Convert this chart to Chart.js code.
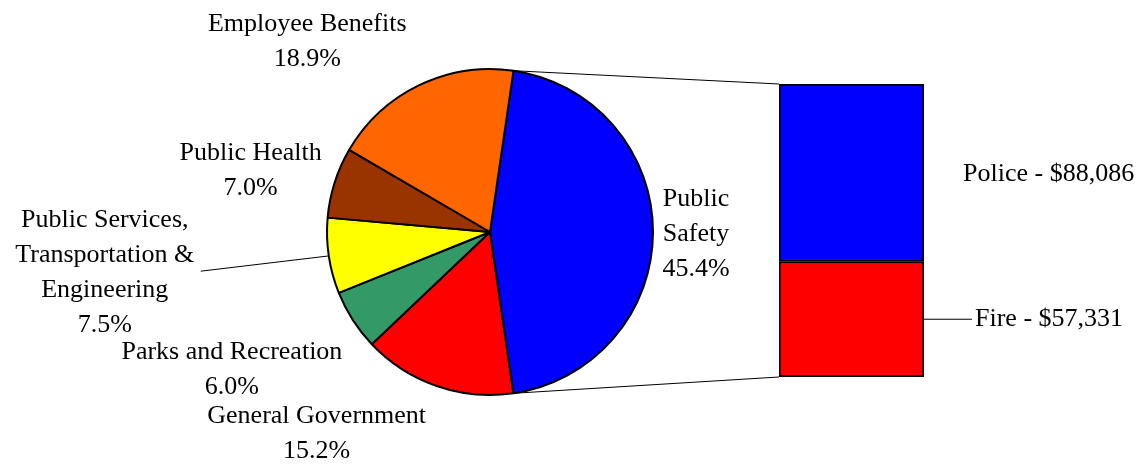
<!DOCTYPE html>
<html>
<head>
<meta charset="utf-8">
<script src="https://cdn.jsdelivr.net/npm/chart.js@4"></script>
<style>
  body { margin: 0; background: #fff; }
  .wrap { position: relative; width: 1145px; height: 464px; }
  .wrap canvas { position: absolute; left: 0; top: 0; }
</style>
</head>
<body>
<div class="wrap">
  <canvas id="pieChart" width="1145" height="464"></canvas>
  <canvas id="barChart" width="1145" height="464"></canvas>
</div>
<script>
// pie categories, clockwise from the top
const categories = [
  ["Public", "Safety"],
  ["General Government"],
  ["Parks and Recreation"],
  ["Public Services,", "Transportation &", "Engineering"],
  ["Public Health"],
  ["Employee Benefits"],
];
const shares = [45.4, 15.2, 6.0, 7.5, 7.0, 18.9];
const pieColors = ["#0000FF", "#FF0000", "#339966", "#FFFF00", "#993300", "#FF6600"];

// breakdown of Public Safety
const subCategories = ["Fire", "Police"];
const subValues = [57331, 88086];
const subColors = ["#FF0000", "#0000FF"];

const FONT = "26px 'Liberation Serif', 'Times New Roman', serif";
const LINE = 35;

// label offsets from the middle of each slice's rim (dx, dy)
const labelOffsets = [
  [43, 2], [-120, 48], [-121, 50], [-224, 17], [-84, -12], [-112, -43],
];

const pieLabels = {
  id: "pieLabels",
  afterDraw(chart) {
    const ctx = chart.ctx;
    const arcs = chart.getDatasetMeta(0).data;
    ctx.save();
    ctx.font = FONT;
    ctx.fillStyle = "#000";
    ctx.textAlign = "center";
    ctx.textBaseline = "middle";
    arcs.forEach((arc, i) => {
      const mid = (arc.startAngle + arc.endAngle) / 2;
      const px = arc.x + arc.outerRadius * Math.cos(mid);
      const py = arc.y + arc.outerRadius * Math.sin(mid);
      const lines = categories[i].concat([shares[i].toFixed(1) + "%"]);
      const cx = px + labelOffsets[i][0];
      const cy = py + labelOffsets[i][1];
      const y0 = cy - (lines.length - 1) * LINE / 2;
      lines.forEach((t, k) => ctx.fillText(t, cx, y0 + k * LINE));
      // leader line for the long label
      if (i === 3) {
        ctx.beginPath();
        ctx.lineWidth = 1;
        ctx.strokeStyle = "#000";
        ctx.moveTo(px, py);
        ctx.lineTo(cx + 96, y0 + LINE * 1.45);
        ctx.stroke();
      }
    });
    ctx.restore();
  },
};

const pieCtx = document.getElementById("pieChart").getContext("2d");
const pieChart = new Chart(pieCtx, {
  type: "pie",
  data: {
    labels: categories,
    datasets: [{
      data: shares,
      backgroundColor: pieColors,
      borderColor: "#000",
      borderWidth: 2,
    }],
  },
  options: {
    responsive: false,
    animation: false,
    rotation: 8.3,
    layout: { padding: { left: 326, right: 491, top: 68, bottom: 68 } },
    plugins: { legend: { display: false }, tooltip: { enabled: false } },
  },
  plugins: [pieLabels],
});

const connectors = {
  id: "connectors",
  afterDraw(chart) {
    const ctx = chart.ctx;
    const arc = pieChart.getDatasetMeta(0).data[0];
    const fire = chart.getDatasetMeta(0).data[0];
    const police = chart.getDatasetMeta(1).data[0];
    const left = police.x - police.width / 2;
    const right = police.x + police.width / 2;
    const ax1 = arc.x + arc.outerRadius * Math.cos(arc.startAngle);
    const ay1 = arc.y + arc.outerRadius * Math.sin(arc.startAngle);
    const ax2 = arc.x + arc.outerRadius * Math.cos(arc.endAngle);
    const ay2 = arc.y + arc.outerRadius * Math.sin(arc.endAngle);
    ctx.save();
    ctx.strokeStyle = "#000";
    ctx.lineWidth = 1;
    ctx.beginPath();
    ctx.moveTo(ax1, ay1);
    ctx.lineTo(left, police.y);
    ctx.moveTo(ax2, ay2);
    ctx.lineTo(left, fire.base);
    ctx.stroke();

    ctx.font = FONT;
    ctx.fillStyle = "#000";
    ctx.textBaseline = "middle";
    ctx.textAlign = "left";
    const policeY = (police.y + police.base) / 2 + 1;
    ctx.fillText(subCategories[1] + " - $" + subValues[1].toLocaleString("en-US"), right + 39, policeY);
    const fireY = (fire.y + fire.base) / 2;
    ctx.beginPath();
    ctx.moveTo(right, fireY);
    ctx.lineTo(right + 48, fireY);
    ctx.stroke();
    ctx.fillText(subCategories[0] + " - $" + subValues[0].toLocaleString("en-US"), right + 51, fireY);
    ctx.restore();
  },
};

const barCtx = document.getElementById("barChart").getContext("2d");
const barChart = new Chart(barCtx, {
  type: "bar",
  data: {
    labels: ["Public Safety"],
    datasets: subCategories.map((name, i) => ({
      label: name,
      data: [subValues[i]],
      backgroundColor: subColors[i],
      borderColor: "#000",
      borderWidth: 2,
      borderSkipped: false,
      barPercentage: 1,
      categoryPercentage: 1,
    })),
  },
  options: {
    responsive: false,
    animation: false,
    layout: { padding: { left: 779, right: 221, top: 84, bottom: 87 } },
    scales: {
      x: { stacked: true, display: false },
      y: { stacked: true, display: false, min: 0, max: subValues[0] + subValues[1] },
    },
    plugins: { legend: { display: false }, tooltip: { enabled: false } },
  },
  plugins: [connectors],
});
</script>
</body>
</html>
